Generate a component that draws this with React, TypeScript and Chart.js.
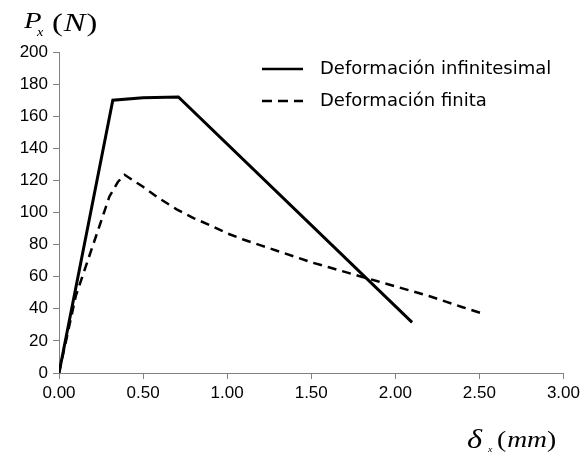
import React, { useEffect, useRef } from "react";
import { Chart, registerables } from "chart.js";

Chart.register(...registerables);

const infX = [0, 0.32, 0.5, 0.71, 2.1];
const infY = [0, 170, 171.5, 172, 31.5];

const finX = [0, 0.1, 0.2, 0.3, 0.35, 0.39, 0.5, 0.6, 0.7, 0.8, 0.9, 1.0, 1.1, 1.2, 1.3, 1.4, 1.5, 1.6, 1.7, 1.8, 1.9, 2.0, 2.1, 2.2, 2.3, 2.4, 2.52];
const finY = [0, 48, 79, 110, 119, 123.5, 116, 108.5, 102, 96.5, 92, 87, 83, 79.5, 76, 72.5, 69, 66, 63, 60, 57, 54, 51, 48, 44.5, 41, 37];

const seriesNames = ["Deformación infinitesimal", "Deformación finita"];
const xTicks = [0, 0.5, 1, 1.5, 2, 2.5, 3];
const yTicks = [0, 20, 40, 60, 80, 100, 120, 140, 160, 180, 200];

const toPts = (xs: number[], ys: number[]) => xs.map((x, i) => ({ x, y: ys[i] }));

function piece(ctx: any, text: string, x: number, y: number, font: string, sx: number) {
  ctx.save();
  ctx.font = font;
  ctx.translate(x, y);
  ctx.scale(sx, 1);
  ctx.fillText(text, 0, 0);
  const w = ctx.measureText(text).width * sx;
  ctx.restore();
  return x + w;
}

const overlay = {
  id: "overlay",
  afterDraw(chart: any) {
    const ctx = chart.ctx;
    ctx.save();
    ctx.fillStyle = "#000";
    ctx.strokeStyle = "#000";
    // legend
    const lx0 = 262, lx1 = 303, tx = 320;
    const rows = [69, 101];
    ctx.lineWidth = 2.5;
    ctx.setLineDash([]);
    ctx.beginPath();
    ctx.moveTo(lx0, rows[0]);
    ctx.lineTo(lx1, rows[0]);
    ctx.stroke();
    ctx.setLineDash([10, 6]);
    ctx.beginPath();
    ctx.moveTo(lx0, rows[1]);
    ctx.lineTo(lx1, rows[1]);
    ctx.stroke();
    ctx.setLineDash([]);
    ctx.font = "18px 'DejaVu Sans'";
    ctx.textBaseline = "middle";
    ctx.textAlign = "left";
    ctx.fillText(seriesNames[0], tx, rows[0]);
    ctx.fillText(seriesNames[1], tx, rows[1]);

    // y title  P_x (N)
    ctx.textBaseline = "alphabetic";
    const serif = "'Liberation Serif'";
    piece(ctx, "P", 24, 28, `italic 24px ${serif}`, 1.2);
    piece(ctx, "x", 37, 36, `italic 13px ${serif}`, 1.1);
    let x = piece(ctx, "(", 52, 31, `26px ${serif}`, 1.25);
    x = piece(ctx, "N", x + 1, 31, `italic 26px ${serif}`, 1.25);
    piece(ctx, ")", x + 1, 31, `26px ${serif}`, 1.25);

    // x title  δ_x (mm)
    piece(ctx, "δ", 467, 448, `italic 27px ${serif}`, 1.2);
    piece(ctx, "x", 488, 452, `italic 9px ${serif}`, 1.1);
    x = piece(ctx, "(", 497, 447, `24px ${serif}`, 1.15);
    x = piece(ctx, "mm", x + 1, 447, `italic 24px ${serif}`, 1.15);
    piece(ctx, ")", x, 447, `24px ${serif}`, 1.15);
    ctx.restore();
  },
};

export default function App() {
  const ref = useRef<HTMLCanvasElement>(null);
  useEffect(() => {
    const chart = new Chart(ref.current!, {
      type: "scatter",
      data: {
        datasets: [
          {
            label: seriesNames[0],
            data: toPts(infX, infY),
            showLine: true,
            borderColor: "#000",
            borderWidth: 3,
            pointRadius: 0,
            tension: 0,
          },
          {
            label: seriesNames[1],
            data: toPts(finX, finY),
            showLine: true,
            borderColor: "#000",
            borderWidth: 2.5,
            borderDash: [9, 6],
            pointRadius: 0,
            tension: 0,
          },
        ],
      },
      options: {
        animation: false,
        responsive: false,
        maintainAspectRatio: false,
        layout: { padding: { top: 52, right: 19, left: 0, bottom: 0 } },
        plugins: { legend: { display: false }, tooltip: { enabled: false } },
        scales: {
          x: {
            type: "linear",
            min: 0,
            max: 3,
            afterBuildTicks: (s: any) => {
              s.ticks = xTicks.map((v) => ({ value: v }));
            },
            afterFit: (s: any) => {
              s.height = 82;
            },
            ticks: {
              color: "#000",
              font: { family: "'Liberation Sans', Arial", size: 17 },
              padding: 4,
              callback: (v: any) => Number(v).toFixed(2),
              maxRotation: 0,
            },
            grid: { drawOnChartArea: false, drawTicks: true, tickLength: 6, color: "#808080", lineWidth: 1 },
            border: { color: "#808080", width: 1 },
          },
          y: {
            type: "linear",
            min: 0,
            max: 200,
            afterBuildTicks: (s: any) => {
              s.ticks = yTicks.map((v) => ({ value: v }));
            },
            afterFit: (s: any) => {
              s.width = 59;
            },
            ticks: {
              color: "#000",
              font: { family: "'Liberation Sans', Arial", size: 17 },
              padding: 5,
            },
            grid: { drawOnChartArea: false, drawTicks: true, tickLength: 6, color: "#808080", lineWidth: 1 },
            border: { color: "#808080", width: 1 },
          },
        },
      },
      plugins: [overlay],
    });
    return () => chart.destroy();
  }, []);
  return (
    <div style={{ position: "absolute", left: 0, top: 0, width: 584, height: 455, background: "#fff" }}>
      <canvas ref={ref} width={584} height={455} style={{ width: 584, height: 455, display: "block" }} />
    </div>
  );
}
